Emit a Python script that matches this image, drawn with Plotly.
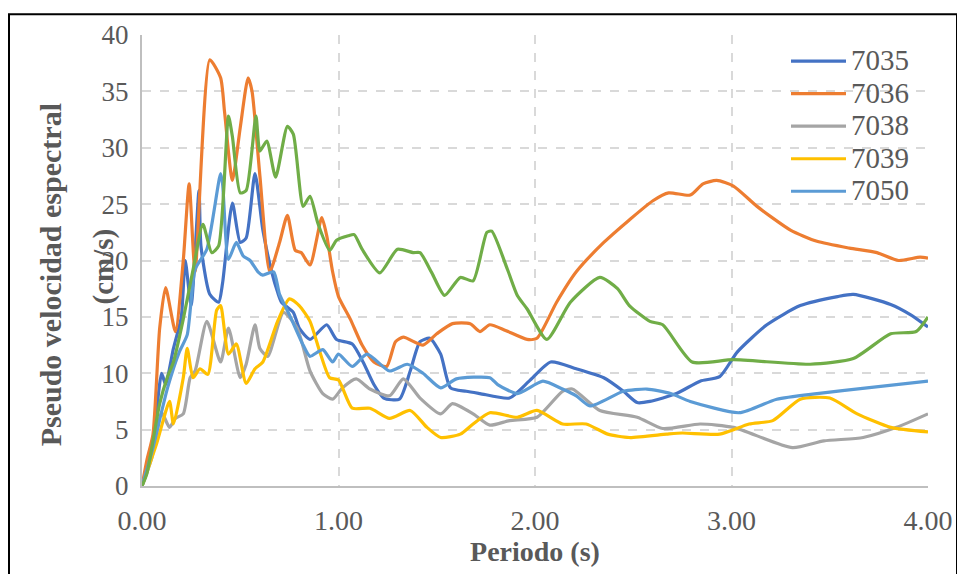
import plotly.graph_objects as go

# ---- data ----
periodo_7035 = [0, 0.05, 0.1, 0.12, 0.16, 0.2, 0.22, 0.25, 0.29, 0.30, 0.345, 0.39, 0.41, 0.46, 0.50, 0.53, 0.575, 0.615, 0.66, 0.69, 0.71, 0.77, 0.80, 0.855, 0.94, 0.99, 1.07, 1.125, 1.18, 1.23, 1.31, 1.365, 1.415, 1.465, 1.52, 1.57, 1.65, 1.72, 1.87, 1.97, 2.08, 2.21, 2.35, 2.45, 2.52, 2.585, 2.72, 2.84, 2.94, 3.03, 3.18, 3.35, 3.54, 3.62, 3.81, 3.91, 4.0]
vel_7035 = [0, 3, 10, 9, 12.2, 15, 20, 16, 26.2, 21.3, 17, 16.3, 18, 25.1, 21.6, 22, 27.7, 22.7, 19, 17.2, 16.3, 15.4, 14, 13, 14.3, 13, 12.6, 11, 9, 7.8, 7.7, 10.2, 12.8, 13.1, 11.7, 8.7, 8.4, 8.2, 7.8, 9.3, 11, 10.4, 9.6, 8.4, 7.4, 7.5, 8.2, 9.3, 9.7, 11.9, 14.3, 16, 16.8, 17, 16.1, 15.2, 14.1]

periodo_7036 = [0, 0.025, 0.056, 0.09, 0.12, 0.17, 0.21, 0.24, 0.27, 0.345, 0.40, 0.42, 0.46, 0.50, 0.54, 0.56, 0.60, 0.65, 0.70, 0.74, 0.78, 0.81, 0.855, 0.915, 0.94, 0.97, 1.0, 1.06, 1.12, 1.18, 1.245, 1.29, 1.33, 1.43, 1.50, 1.58, 1.67, 1.72, 1.77, 1.85, 1.96, 2.01, 2.11, 2.21, 2.35, 2.48, 2.6, 2.68, 2.79, 2.855, 2.925, 3.01, 3.13, 3.30, 3.435, 3.6, 3.74, 3.85, 3.96, 4.0]
vel_7036 = [0, 2.3, 4.6, 14, 17.6, 13.7, 20, 26.8, 19, 37.8, 36.2, 33.2, 27.1, 31.8, 36.2, 35, 27.5, 19, 21.6, 24, 20.9, 20.7, 19.6, 23.8, 22.2, 19, 16.8, 14.8, 12.5, 11, 10.6, 12.8, 13.2, 12.5, 13.5, 14.4, 14.4, 13.7, 14.3, 13.8, 13, 13.1, 16.3, 19, 21.6, 23.6, 25.3, 26, 25.8, 26.8, 27.1, 26.6, 24.8, 22.7, 21.7, 21.1, 20.7, 20, 20.3, 20.2]

periodo_7038 = [0, 0.05, 0.1, 0.14, 0.17, 0.21, 0.245, 0.27, 0.33, 0.40, 0.44, 0.50, 0.53, 0.575, 0.60, 0.64, 0.72, 0.79, 0.855, 0.92, 0.97, 1.02, 1.09, 1.16, 1.26, 1.33, 1.415, 1.52, 1.58, 1.685, 1.77, 1.87, 2.01, 2.14, 2.19, 2.33, 2.52, 2.65, 2.84, 3.01, 3.31, 3.47, 3.67, 3.84, 4.0]
vel_7038 = [0, 2.5, 6.5, 5.2, 6, 6.4, 9.6, 10.2, 14.6, 11, 14, 9.6, 10.8, 14.3, 12.2, 11.5, 15.4, 14, 10.2, 8.2, 7.7, 8.7, 9.5, 8.6, 8, 9.5, 7.8, 6.4, 7.3, 6.4, 5.4, 5.8, 6.1, 8.4, 8.6, 6.7, 6.1, 5.1, 5.5, 5.2, 3.4, 4, 4.3, 5.2, 6.4]

periodo_7039 = [0, 0.075, 0.14, 0.16, 0.21, 0.23, 0.26, 0.295, 0.335, 0.38, 0.40, 0.44, 0.48, 0.53, 0.575, 0.615, 0.69, 0.75, 0.80, 0.855, 0.905, 0.955, 1.0, 1.07, 1.16, 1.26, 1.365, 1.45, 1.52, 1.62, 1.685, 1.77, 1.91, 2.01, 2.14, 2.26, 2.37, 2.48, 2.67, 2.75, 2.94, 3.09, 3.21, 3.35, 3.50, 3.64, 3.81, 4.0]
vel_7039 = [0, 3.8, 7.5, 5.5, 9.6, 12.2, 9.6, 10.4, 9.9, 15.6, 16, 11.7, 12.6, 9.1, 10.4, 11, 14.6, 16.6, 16, 14.6, 11.9, 9.6, 9.4, 6.9, 6.9, 6, 6.7, 5.2, 4.3, 4.6, 5.5, 6.5, 6.1, 6.7, 5.5, 5.5, 4.6, 4.3, 4.6, 4.7, 4.6, 5.5, 5.8, 7.7, 7.8, 6.4, 5.2, 4.8]

periodo_7050 = [0, 0.05, 0.13, 0.19, 0.23, 0.27, 0.33, 0.40, 0.41, 0.44, 0.48, 0.515, 0.55, 0.59, 0.615, 0.67, 0.70, 0.75, 0.82, 0.855, 0.92, 0.97, 1.0, 1.07, 1.145, 1.26, 1.35, 1.43, 1.52, 1.60, 1.77, 1.81, 1.91, 2.04, 2.14, 2.21, 2.28, 2.45, 2.57, 2.69, 2.79, 3.04, 3.23, 3.435, 3.69, 4.0]
vel_7050 = [0, 3, 8.7, 11.9, 13.4, 19.2, 21, 27.7, 26.8, 20.1, 21.6, 20.4, 20, 19, 18.7, 19, 17, 15.2, 12.5, 11.5, 12.1, 11, 11.7, 10.6, 11.7, 10.2, 10.8, 10, 8.7, 9.5, 9.6, 9, 8.2, 9.3, 8.6, 8, 7.1, 8.4, 8.6, 8.2, 7.5, 6.5, 7.7, 8.2, 8.7, 9.3]

periodo_verde = [0, 0.025, 0.09, 0.13, 0.16, 0.21, 0.26, 0.31, 0.355, 0.39, 0.44, 0.46, 0.50, 0.53, 0.58, 0.60, 0.635, 0.68, 0.74, 0.77, 0.82, 0.855, 0.895, 0.955, 0.99, 1.05, 1.08, 1.12, 1.21, 1.30, 1.38, 1.415, 1.475, 1.54, 1.62, 1.685, 1.755, 1.78, 1.86, 1.91, 1.96, 2.06, 2.18, 2.33, 2.42, 2.48, 2.585, 2.65, 2.80, 3.01, 3.40, 3.62, 3.81, 3.94, 4.0]
vel_verde = [0, 1.1, 7.3, 9.7, 11, 14.8, 19.2, 23.2, 20.7, 21.3, 32.8, 31, 26, 26.2, 32.8, 29.7, 30.6, 27.4, 31.9, 31.2, 24.8, 25.7, 23.3, 20.9, 21.8, 22.2, 22.3, 21, 18.9, 21, 20.7, 20.7, 18.9, 16.9, 18.5, 18.2, 22.5, 22.6, 19.2, 16.9, 15.7, 13, 16.3, 18.5, 17.5, 16, 14.6, 14.3, 11, 11.2, 10.8, 11.3, 13.5, 13.7, 15]

series_names = ["7035", "7036", "7038", "7039", "7050"]
series_colors = ["#4472C4", "#ED7D31", "#A5A5A5", "#FFC000", "#5B9BD5"]
series_x = [periodo_7035, periodo_7036, periodo_7038, periodo_7039, periodo_7050]
series_y = [vel_7035, vel_7036, vel_7038, vel_7039, vel_7050]

x_ticks = [0, 1, 2, 3, 4]
y_ticks = [0, 5, 10, 15, 20, 25, 30, 35, 40]

fig = go.Figure()
for name, color, xs, ys in zip(series_names, series_colors, series_x, series_y):
    fig.add_trace(go.Scatter(x=xs, y=ys,
                             name=f"<span style=\"font-size:29px;font-family:'Liberation Serif',serif\">{name}</span>",
                             mode="lines", hovertemplate=f"{name}<br>%{{x:.2f}} s, %{{y:.1f}} cm/s<extra></extra>",
                             line=dict(color=color, width=3.2, shape="spline", smoothing=0.6)))
fig.add_trace(go.Scatter(x=periodo_verde, y=vel_verde, name="", mode="lines", showlegend=False,
                         line=dict(color="#70AD47", width=3.2, shape="spline", smoothing=0.6)))

# page body has an 8px margin: screen pixel = figure pixel + 8
OFF = 8
W, H = 965, 574
ML, MT = 142 - OFF, 30 - OFF
pw, ph = 786, 456
MR, MB = W - ML - pw, H - MT - ph

def px(xs):  # screen x pixel -> paper
    return (xs - OFF - ML) / pw

def py(ys):  # screen y pixel -> paper
    return (MT + ph - (ys - OFF)) / ph

SERIF = "Liberation Serif"
grid = "#D9D9D9"
txt = "#595959"
fig.update_layout(
    width=W, height=H,
    margin=dict(l=ML, r=MR, t=MT, b=MB),
    paper_bgcolor="white", plot_bgcolor="white",
    font=dict(family=SERIF, color=txt),
    xaxis=dict(range=[0, 4], tickvals=x_ticks, tickformat=".2f",
               showgrid=True, gridcolor=grid, griddash="dash", gridwidth=1.5,
               showline=True, linecolor="#BFBFBF", linewidth=2, zeroline=False,
               tickfont=dict(size=28, color=txt, family=SERIF), ticklabelstandoff=8,
               title=dict(text="<b>Periodo (s)</b>", font=dict(size=28, color=txt, family=SERIF), standoff=0)),
    yaxis=dict(range=[0, 40], tickvals=y_ticks,
               showgrid=True, gridcolor=grid, griddash="dash", gridwidth=1.5,
               showline=True, linecolor="#BFBFBF", linewidth=2, zeroline=False,
               tickfont=dict(size=27, color=txt, family=SERIF), ticklabelstandoff=6),
    legend=dict(x=px(786), y=py(35), xanchor="left", yanchor="top",
                bgcolor="rgba(0,0,0,0)", font=dict(size=22.7, color=txt, family=SERIF),
                itemwidth=55, tracegroupgap=0),
    annotations=[
        dict(text="<b>Pseudo velocidad espectral</b>", x=px(50), y=py(273), xref="paper", yref="paper",
             xanchor="center", yanchor="middle",
             textangle=-90, showarrow=False, font=dict(size=30, color=txt, family=SERIF)),
        dict(text="<b>(cm/s)</b>", x=px(103), y=py(264), xref="paper", yref="paper",
             xanchor="center", yanchor="middle",
             textangle=-90, showarrow=False, font=dict(size=29, color=txt, family=SERIF)),
    ],
    shapes=[
        dict(type="rect", xref="paper", yref="paper", x0=px(788), x1=px(915), y0=py(205), y1=py(42),
             line=dict(width=0), fillcolor="white", layer="between"),
        dict(type="rect", xref="paper", yref="paper", x0=px(9), x1=px(957), y0=py(600), y1=py(9),
             line=dict(color="black", width=2), fillcolor="rgba(0,0,0,0)", layer="above"),
    ],
)

fig.write_html("out.html")
